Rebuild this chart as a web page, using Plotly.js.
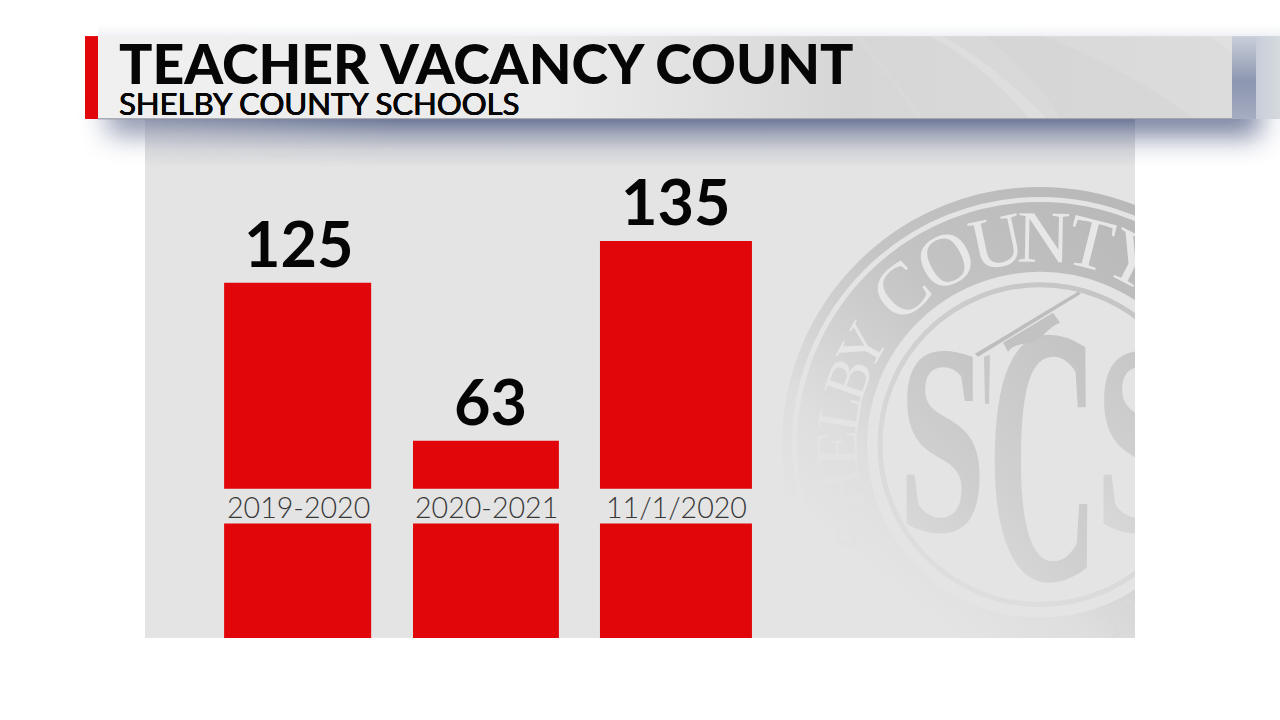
<!DOCTYPE html>
<html><head><meta charset="utf-8">
<script src="https://cdn.plot.ly/plotly-3.0.1.min.js"></script>
<style>html,body{margin:0;padding:0;background:#fff}#c{width:1280px;height:720px}</style>
</head><body><div id="c"></div>
<script>
const categories = ['2019-2020', '2020-2021', '11/1/2020'];
const vacancyLabels = ['125', '63', '135'];
const barHeights = [355.5, 197.5, 397.5];
const barOffsets = [-0.388, -0.390, -0.402];
const barWidths = [0.777, 0.771, 0.803];
const labelShifts = [1, 4, 0];
const titleText = 'TEACHER VACANCY COUNT';
const subtitleText = 'SHELBY COUNTY SCHOOLS';
const sealLetters = ['S', 'H', 'E', 'L', 'B', 'Y', 'C', 'O', 'U', 'N', 'T', 'Y'];
const sealAngles = [205, 193, 181, 171, 161, 151, 132, 117, 102, 89, 76, 63];
const sealSizes = [60, 60, 60, 60, 60, 60, 74, 74, 74, 74, 74, 74];
const sealFills = ['#e2e2e2', '#e2e2e2', '#e3e3e3', '#e4e4e4', '#e5e5e5', '#e6e6e6', '#e7e7e7', '#e7e7e7', '#e7e7e7', '#e7e7e7', '#e7e7e7', '#e7e7e7'];

const W = 1280, H = 720, L = 145, R = 1135, T = 120, B = 638.5;
const px = x => (x - L) / (R - L);
const py = y => (B - y) / (B - T);

const sealText = sealLetters.map((ch, i) => {
  const a = sealAngles[i] * Math.PI / 180;
  const x = 1040 + 183 * Math.cos(a), y = 445 - 183 * Math.sin(a);
  return `<text transform="translate(${x.toFixed(1)},${y.toFixed(1)}) rotate(${90 - sealAngles[i]})" text-anchor="middle" font-size="${sealSizes[i]}" fill="${sealFills[i]}">${ch}</text>`;
}).join('');

const art = `<svg xmlns="http://www.w3.org/2000/svg" width="1280" height="720" viewBox="0 0 1280 720">
<defs>
<filter id="blur" filterUnits="userSpaceOnUse" x="0" y="0" width="1400" height="300"><feGaussianBlur stdDeviation="14"/></filter>
<clipPath id="panel"><rect x="145" y="119" width="990" height="519.5"/></clipPath>
<clipPath id="outside"><path d="M0 0H145V300H0Z M1135 0H1280V300H1135Z"/></clipPath>
<linearGradient id="seal" gradientUnits="userSpaceOnUse" x1="1100" y1="200" x2="830" y2="540">
<stop offset="0" stop-color="#b9b9b9"/><stop offset="0.4" stop-color="#c4c4c4"/><stop offset="0.8" stop-color="#dedede"/><stop offset="1" stop-color="#e4e4e4"/></linearGradient>
<linearGradient id="ring" gradientUnits="userSpaceOnUse" x1="1100" y1="280" x2="930" y2="620">
<stop offset="0" stop-color="#c4c4c4"/><stop offset="0.6" stop-color="#d8d8d8"/><stop offset="1" stop-color="#e0e0e0"/></linearGradient>
<linearGradient id="letters" gradientUnits="userSpaceOnUse" x1="1090" y1="330" x2="950" y2="590">
<stop offset="0" stop-color="#c4c4c4"/><stop offset="0.5" stop-color="#d0d0d0"/><stop offset="1" stop-color="#e1e1e1"/></linearGradient>
<linearGradient id="bar" x1="0" x2="1" y1="0" y2="0">
<stop offset="0" stop-color="#f0f0f0"/><stop offset="0.4" stop-color="#ebebeb"/><stop offset="0.66" stop-color="#d6d6d6"/><stop offset="1" stop-color="#dcdcdc"/></linearGradient>
<linearGradient id="fadeTop" x1="0" x2="0" y1="0" y2="1">
<stop offset="0" stop-color="#fff" stop-opacity="0"/><stop offset="1" stop-color="#eef0f4"/></linearGradient>
<linearGradient id="shade" x1="0" x2="0" y1="0" y2="1">
<stop offset="0" stop-color="#6d7898"/><stop offset="0.33" stop-color="#6d7898" stop-opacity="0.52"/><stop offset="0.65" stop-color="#6d7898" stop-opacity="0.17"/><stop offset="1" stop-color="#6d7898" stop-opacity="0"/></linearGradient>
<linearGradient id="horiz" gradientUnits="userSpaceOnUse" x1="145" x2="400" y1="0" y2="0">
<stop offset="0" stop-color="#fff" stop-opacity="0.72"/><stop offset="1" stop-color="#fff" stop-opacity="1"/></linearGradient>
<mask id="hm" maskUnits="userSpaceOnUse" x="145" y="119" width="990" height="50"><rect x="145" y="119" width="990" height="50" fill="url(#horiz)"/></mask>
<linearGradient id="rs1" x1="0" x2="0" y1="0" y2="1">
<stop offset="0" stop-color="#c9cfd9"/><stop offset="0.55" stop-color="#8c96b0"/><stop offset="1" stop-color="#a5adc2"/></linearGradient>
<linearGradient id="rs2" x1="0" x2="1" y1="0" y2="0">
<stop offset="0" stop-color="#c8ced9"/><stop offset="1" stop-color="#d5dadf"/></linearGradient>
</defs>
<rect width="1280" height="720" fill="#fff"/>
<rect x="98" y="20" width="1182" height="16" fill="url(#fadeTop)"/>
<rect x="145" y="119" width="990" height="519.5" fill="#e4e4e4"/>
<g clip-path="url(#panel)">
<circle cx="1040" cy="445" r="253" fill="none" stroke="url(#seal)" stroke-width="10"/>
<circle cx="1040" cy="445" r="208" fill="none" stroke="url(#seal)" stroke-width="70"/>
<circle cx="1040" cy="445" r="160" fill="none" stroke="url(#ring)" stroke-width="5"/>
<g font-family="Liberation Serif">${sealText}</g>
<text transform="translate(1108,640) rotate(-24)" font-family="Liberation Serif" font-size="42" fill="#d9d9d9">18</text>
<g font-family="Liberation Serif" font-weight="bold" fill="url(#letters)" stroke="url(#letters)" stroke-width="2.5">
<text transform="translate(899,530) scale(0.58,1.0)" font-size="268">S</text>
<text transform="translate(988,578) scale(0.565,1.35)" font-size="270">C</text>
<text transform="translate(1096,530) scale(0.58,1.0)" font-size="268">S</text>
</g>
<path d="M975 354 L1078 292 L1081 294 L978 357Z" fill="#bdbdbd"/>
<path d="M1003 343 L1053 313 L1060 323 C1048 327 1042 340 1032 343 C1020 344 1012 346 1008 352Z" fill="#c2c2c2"/>
<path d="M984 357 L990 355 L989 404 L985 404Z" fill="#c8c8c8"/>
</g>
<rect x="145" y="119" width="990" height="48" fill="url(#shade)" mask="url(#hm)"/>
<g clip-path="url(#outside)">
<rect x="108" y="96" width="120" height="38" fill="#6d7898" opacity="0.8" filter="url(#blur)"/>
<rect x="1090" y="96" width="170" height="40" fill="#6d7898" opacity="0.95" filter="url(#blur)"/>
</g>
<rect x="1232" y="36" width="24" height="83" fill="url(#rs1)"/>
<rect x="1256" y="36" width="24" height="83" fill="url(#rs2)"/>
<rect x="98" y="36" width="1134" height="83" fill="url(#bar)"/>
<g fill="#e4e4e4" opacity="0.5">
<path d="M943 36 C985 60 1025 95 1047 119 L1030 119 C1005 90 975 60 930 36Z"/>
<path d="M1210 36 L1232 36 L1232 52Z"/>
</g>
<path d="M860 36 C880 60 905 95 925 119 L917 119 C900 90 875 60 852 36Z" fill="#dfdfdf" opacity="0.3"/>
<path d="M1040 36 C1110 60 1160 95 1195 119 L1060 119 C1045 90 1015 60 985 36Z" fill="#d3d3d3" opacity="0.45"/>
<rect x="85" y="36" width="13" height="83" fill="#e10609"/>
<rect x="98" y="118.3" width="1134" height="1" fill="#8c8f9d"/>
</svg>`;

const trace = {
  type: 'bar',
  x: categories,
  y: barHeights,
  offset: barOffsets,
  width: barWidths,
  marker: {color: '#e10609', line: {width: 0}},
  hoverinfo: 'skip',
  cliponaxis: false
};

const valueAnnotations = categories.map((c, i) => ({
  x: c, xref: 'x', y: barHeights[i], yref: 'y',
  text: vacancyLabels[i], showarrow: false, yanchor: 'bottom', xanchor: 'center',
  xshift: labelShifts[i], yshift: 1,
  font: {family: 'Lato', size: 63, color: '#050505', weight: 700}
}));
const categoryAnnotations = categories.map((c, i) => ({
  x: c, xref: 'x', y: py(507), yref: 'paper',
  text: c, showarrow: false, yanchor: 'middle', xanchor: 'center',
  xshift: [1, 0, 0][i],
  font: {family: 'Lato', size: 28.6, color: '#383838', weight: 300}
}));
const titleAnnotations = [
  {x: px(116.5), y: py(62), text: titleText, size: 55.4, weight: 900, shadow: 'none'},
  {x: px(117), y: py(102.5), text: subtitleText, size: 31.1, weight: 400, shadow: '0.5px 0 0 #060606, -0.3px 0 0 #060606, 0 0.3px 0 #060606'}
].map(a => ({
  x: a.x, y: a.y, xref: 'paper', yref: 'paper', text: a.text, showarrow: false,
  xanchor: 'left', yanchor: 'middle',
  font: {family: 'Lato', size: a.size, color: '#060606', weight: a.weight, shadow: a.shadow}
}));

const layout = {
  width: W, height: H,
  margin: {l: L, r: W - R, t: T, b: H - B, pad: 0},
  paper_bgcolor: '#ffffff', plot_bgcolor: 'rgba(0,0,0,0)',
  showlegend: false, hovermode: false,
  xaxis: {type: 'category', categoryorder: 'array', categoryarray: categories,
    range: [-0.806, 4.425], visible: false, fixedrange: true},
  yaxis: {range: [0, B - T], visible: false, fixedrange: true},
  images: [{
    source: 'data:image/svg+xml;charset=utf-8,' + encodeURIComponent(art),
    xref: 'paper', yref: 'paper', x: px(0), y: py(0),
    sizex: W / (R - L), sizey: H / (B - T),
    xanchor: 'left', yanchor: 'top', sizing: 'stretch', layer: 'below'
  }],
  shapes: [{
    type: 'rect', xref: 'paper', yref: 'paper',
    x0: px(200), x1: px(775), y0: py(524), y1: py(489),
    fillcolor: '#e4e4e4', line: {width: 0}, layer: 'above'
  }],
  annotations: [...valueAnnotations, ...categoryAnnotations, ...titleAnnotations]
};
Plotly.newPlot('c', [trace], layout, {displayModeBar: false, staticPlot: true});
</script></body></html>
